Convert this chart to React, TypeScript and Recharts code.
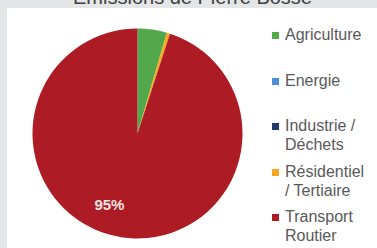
import React from 'react';
import { PieChart, Pie, Cell, Legend } from 'recharts';

const sectors = ['Agriculture', 'Energie', 'Industrie / Déchets', 'Résidentiel / Tertiaire', 'Transport Routier'];
const shares = [4.5, 0, 0, 0.5, 95];
const colors = ['#52a84a', '#4a8fd6', '#1f3a6c', '#f7a823', '#ad1c24'];
const legendLines = [['Agriculture'], ['Energie'], ['Industrie /', 'Déchets'], ['Résidentiel', '/ Tertiaire'], ['Transport', 'Routier']];
const title = 'Emissions de Pierre Bosse';

const data = sectors.map((name, i) => ({ name, value: shares[i] }));

const RAD = Math.PI / 180;

// Excel pushes the big slice's label a little further round than the mid angle
const renderLabel = (props: any) => {
  const { cx, cy, midAngle, outerRadius, value } = props;
  if (value < 10) return null;
  const r = outerRadius * 0.73;
  const a = (midAngle - 12.5) * RAD;
  const x = cx + r * Math.cos(-a);
  const y = cy + r * Math.sin(-a);
  return (
    <text x={x} y={y} fill="#f6e4e4" textAnchor="middle" dominantBaseline="central"
      fontSize={15} fontWeight="bold" fontFamily="'Liberation Sans', Arial, sans-serif">
      {Math.round(value)}%
    </text>
  );
};

const LegendList = () => (
  <div style={{ fontFamily: "'Liberation Sans', Arial, sans-serif", fontSize: 16, color: '#595959' }}>
    {sectors.map((name, i) => (
      <div key={name} style={{ position: 'relative', height: 45.5 }}>
        <div style={{ position: 'absolute', left: 0, top: 7, width: 7, height: 7, background: colors[i] }} />
        <div style={{ position: 'absolute', left: 13, top: 0, lineHeight: '19px', whiteSpace: 'nowrap' }}>
          {legendLines[i].map((p) => <div key={p}>{p}</div>)}
        </div>
      </div>
    ))}
  </div>
);

export default function App() {
  return (
    <div style={{ position: 'absolute', left: 0, top: 0, width: 377, height: 248, overflow: 'hidden', background: '#e4e6e8' }}>
      <div style={{
        position: 'absolute', left: 0, width: 377, top: -13, lineHeight: '20px', textAlign: 'center',
        paddingLeft: 8, boxSizing: 'border-box',
        fontFamily: "'Liberation Sans', Arial, sans-serif", fontSize: 20, color: '#404040', whiteSpace: 'nowrap',
      }}>
        {title}
      </div>
      <div style={{ position: 'absolute', left: 7, top: 8, width: 370, height: 240, background: '#ffffff' }}>
        <PieChart width={370} height={240} margin={{ top: 0, right: 0, bottom: 0, left: 0 }}>
          <Pie
            data={data}
            dataKey="value"
            nameKey="name"
            cx={130.5}
            cy={125.5}
            outerRadius={105}
            startAngle={90}
            endAngle={-270}
            stroke="none"
            label={renderLabel}
            labelLine={false}
            isAnimationActive={false}
          >
            {data.map((d, i) => <Cell key={d.name} fill={colors[i]} />)}
          </Pie>
          <Legend
            layout="vertical"
            verticalAlign="top"
            align="right"
            content={() => <LegendList />}
            wrapperStyle={{ left: 265, top: 17, width: 105 }}
          />
        </PieChart>
      </div>
    </div>
  );
}
